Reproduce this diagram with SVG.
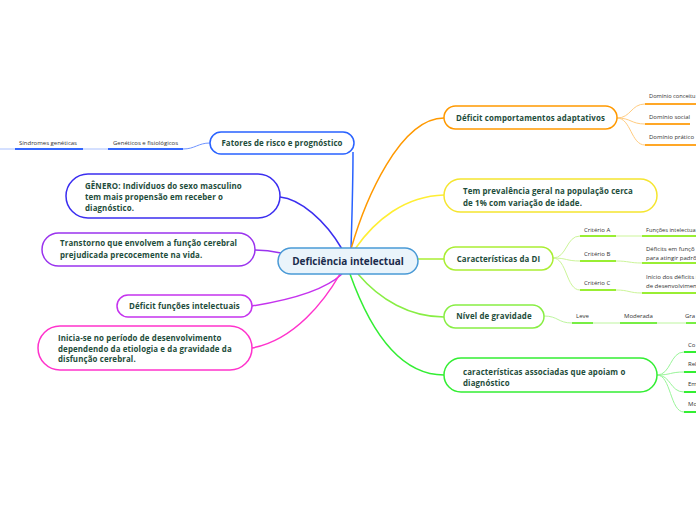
<svg xmlns="http://www.w3.org/2000/svg" width="696" height="520" viewBox="0 0 696 520">
<style>
text{font-family:"Open Sans","Noto Sans",sans-serif;}
.n{font-size:7.9px;font-weight:700;fill:#1e4d3b;letter-spacing:0.12px;}
.s{font-size:6px;fill:#333;}
.e{font-size:5.7px;}
.box{fill:#fff;stroke-width:1.5;}
.c{fill:none;stroke-width:1.5;}
.t{fill:none;stroke-width:1;}
.u{fill:none;stroke-width:2;}
</style>
<rect width="696" height="520" fill="#fff"/>
<g id="connectors">
  <path class="c" d="M351,249 C352,215 353,185 353,152" stroke="#2962ff"/>
  <path class="c" d="M342,249 C325,220 300,199 280,197" stroke="#3b2ef0"/>
  <path class="c" d="M281,253 C272,251 263,250 255,250" stroke="#9a33ee"/>
  <path class="c" d="M252,306 C290,300 325,290 342,274" stroke="#c533ee"/>
  <path class="c" d="M252,348 C295,340 325,300 340,274" stroke="#ff33cc"/>
  <path class="c" d="M351,249 C365,200 400,118 444,118" stroke="#ff9900"/>
  <path class="c" d="M355,249 C375,220 405,196 444,195" stroke="#ffee33"/>
  <path class="c" d="M418,259 L444,259" stroke="#aaee33"/>
  <path class="c" d="M358,274 C380,300 410,317 444,317" stroke="#88ee44"/>
  <path class="c" d="M350,274 C370,330 400,375 444,375" stroke="#33ee33"/>
  <path class="t" d="M210,143 C198,143 195,149 183,149" stroke="#6f94ff"/>
  <path class="u" d="M108,149 L183,149" stroke="#3366ff"/>
  <path class="t" d="M83,149 L108,149" stroke="#a9c0ff"/>
  <path class="u" d="M15,149 L83,149" stroke="#3366ff"/>
  <path class="t" d="M0,149 L15,149" stroke="#a9c0ff"/>
  <path class="t" d="M617,118 C631,118 631,104 645,104" stroke="#ffcc80"/>
  <path class="t" d="M617,118 C631,118 631,124 645,124" stroke="#ffcc80"/>
  <path class="t" d="M617,118 C631,118 631,145 645,145" stroke="#ffcc80"/>
  <path class="u" d="M645,104 L696,104" stroke="#ffa726"/>
  <path class="u" d="M645,124 L690,124" stroke="#ffa726"/>
  <path class="u" d="M645,145 L696,145" stroke="#ffa726"/>
  <path class="t" d="M553,258 C567,258 566,236 580,236" stroke="#ccf599"/>
  <path class="t" d="M553,258 C567,258 566,261 580,261" stroke="#ccf599"/>
  <path class="t" d="M553,258 C567,258 566,290 580,290" stroke="#ccf599"/>
  <path class="u" d="M580,236 L616,236" stroke="#99ee33"/>
  <path class="u" d="M580,261 L616,261" stroke="#99ee33"/>
  <path class="u" d="M580,290 L616,290" stroke="#99ee33"/>
  <path class="t" d="M616,236 L642,236" stroke="#ccf599"/>
  <path class="t" d="M616,261 C629,261 629,263 642,263" stroke="#ccf599"/>
  <path class="t" d="M616,290 C629,290 629,293 642,293" stroke="#ccf599"/>
  <path class="u" d="M642,236 L696,236" stroke="#99ee33"/>
  <path class="u" d="M642,263 L696,263" stroke="#99ee33"/>
  <path class="u" d="M642,293 L696,293" stroke="#99ee33"/>
  <path class="t" d="M544,316 C558,316 558,323 572,323" stroke="#bdf59e"/>
  <path class="u" d="M572,323 L593,323" stroke="#77ee44"/>
  <path class="t" d="M593,323 L620,323" stroke="#bdf59e"/>
  <path class="u" d="M620,323 L657,323" stroke="#77ee44"/>
  <path class="t" d="M657,323 L686,323" stroke="#bdf59e"/>
  <path class="u" d="M686,323 L696,323" stroke="#77ee44"/>
  <path class="t" d="M657,375 C671,375 670,352 684,352" stroke="#99f599"/>
  <path class="t" d="M657,375 C671,375 670,372 684,372" stroke="#99f599"/>
  <path class="t" d="M657,375 C671,375 670,392 684,392" stroke="#99f599"/>
  <path class="t" d="M657,375 C671,375 670,412 684,412" stroke="#99f599"/>
  <path class="u" d="M684,352 L696,352" stroke="#33ee33"/>
  <path class="u" d="M684,372 L696,372" stroke="#33ee33"/>
  <path class="u" d="M684,392 L696,392" stroke="#33ee33"/>
  <path class="u" d="M684,412 L696,412" stroke="#33ee33"/>
</g>
<g id="central">
  <rect x="278" y="248" width="140" height="26" rx="13" fill="#eaf4fb" stroke="#4a9ad6" stroke-width="1.5"/>
  <text x="348" y="265" text-anchor="middle" font-size="10" font-weight="700" fill="#1a2b4c">Deficiência intelectual</text>
</g>
<g id="fatores">
  <rect class="box" x="210" y="132" width="144" height="22" rx="11" stroke="#2962ff"/>
  <text class="n" x="282" y="146" text-anchor="middle">Fatores de risco e prognóstico</text>
</g>
<g id="geneticos"><text class="s" x="113" y="145">Genéticos e fisiológicos</text></g>
<g id="sindromes"><text class="s" x="19" y="145">Síndromes genéticas</text></g>
<g id="genero">
  <rect class="box" x="66" y="174" width="214" height="44" rx="22" stroke="#3b2ef0"/>
  <text class="n" x="85" y="188.5">GÊNERO:  Indivíduos do sexo masculino</text>
  <text class="n" x="85" y="199.5">tem mais propensão em receber o</text>
  <text class="n" x="85" y="210.5">diagnóstico.</text>
</g>
<g id="transtorno">
  <rect class="box" x="42" y="233" width="213" height="33" rx="16.5" stroke="#9a33ee"/>
  <text class="n" x="60" y="246">Transtorno que envolvem a função cerebral</text>
  <text class="n" x="60" y="258">prejudicada precocemente na vida.</text>
</g>
<g id="deficit-funcoes">
  <rect class="box" x="117" y="295" width="135" height="22" rx="11" stroke="#c533ee"/>
  <text class="n" x="184.5" y="309" text-anchor="middle">Déficit funções intelectuais</text>
</g>
<g id="inicia">
  <rect class="box" x="38" y="326" width="214" height="44" rx="22" stroke="#ff33cc"/>
  <text class="n" x="58" y="341">Inicia-se no período de desenvolvimento</text>
  <text class="n" x="58" y="351.5">dependendo da etiologia e da gravidade da</text>
  <text class="n" x="58" y="362">disfunção cerebral.</text>
</g>
<g id="deficit-comportamentos">
  <rect class="box" x="444" y="106" width="173" height="23" rx="11.5" stroke="#ff9900"/>
  <text class="n" x="530.5" y="121" text-anchor="middle">Déficit comportamentos adaptativos</text>
</g>
<g id="dominio-conceitual"><text class="s e" x="649" y="98">Domínio conceitu</text></g>
<g id="dominio-social"><text class="s" x="649" y="119">Domínio social</text></g>
<g id="dominio-pratico"><text class="s" x="649" y="139">Domínio prático</text></g>
<g id="prevalencia">
  <rect class="box" x="444" y="179" width="213" height="33" rx="16.5" stroke="#f5e52f"/>
  <text class="n" x="463" y="194">Tem prevalência geral na população  cerca</text>
  <text class="n" x="463" y="206">de 1% com variação de idade.</text>
</g>
<g id="caracteristicas-di">
  <rect class="box" x="444" y="247" width="109" height="23" rx="11.5" stroke="#aaee33"/>
  <text class="n" x="498.5" y="261.5" text-anchor="middle">Características da DI</text>
</g>
<g id="criterio-a"><text class="s" x="584" y="232">Critério A</text></g>
<g id="criterio-b"><text class="s" x="584" y="256">Critério B</text></g>
<g id="criterio-c"><text class="s" x="584" y="285">Critério C</text></g>
<g id="funcoes-intelectuais"><text class="s e" x="646" y="232">Funções intelectua</text></g>
<g id="deficits-funcoes">
  <text class="s" x="646" y="251">Déficits em funçõ</text>
  <text class="s" x="646" y="260">para atingir padrõ</text>
</g>
<g id="inicio-deficits">
  <text class="s" x="646" y="279">Início dos déficits i</text>
  <text class="s" x="646" y="288">de desenvolvimen</text>
</g>
<g id="nivel">
  <rect class="box" x="444" y="305" width="100" height="23" rx="11.5" stroke="#88ee44"/>
  <text class="n" x="494" y="319" text-anchor="middle">Nível de gravidade</text>
</g>
<g id="leve"><text class="s" x="576" y="318">Leve</text></g>
<g id="moderada"><text class="s" x="624" y="318">Moderada</text></g>
<g id="grave"><text class="s" x="685" y="318">Gra</text></g>
<g id="associadas">
  <rect class="box" x="444" y="358" width="213" height="34" rx="17" stroke="#33ee33"/>
  <text class="n" x="463" y="374.5">características associadas que apoiam o</text>
  <text class="n" x="463" y="385.5">diagnóstico</text>
</g>
<g id="co"><text class="s" x="688" y="347">Co</text></g>
<g id="rel"><text class="s" x="688" y="366">Rel</text></g>
<g id="em"><text class="s" x="688" y="386">Em</text></g>
<g id="mo"><text class="s" x="688" y="406">Mo</text></g>
</svg>
